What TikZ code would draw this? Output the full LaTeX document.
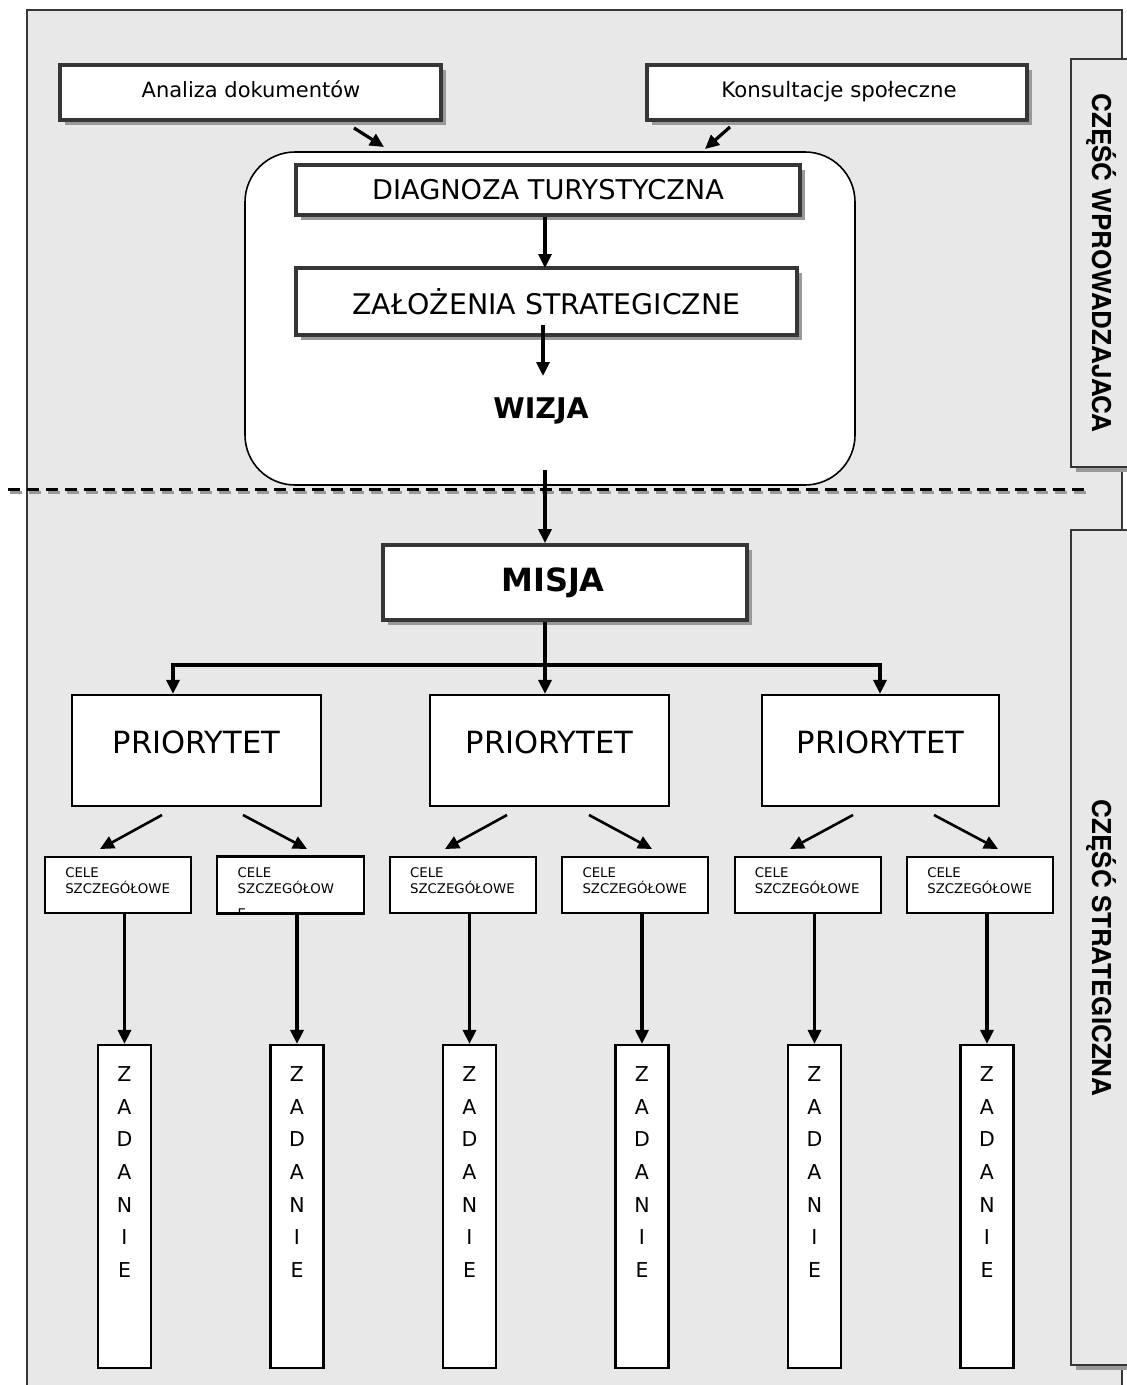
\documentclass[tikz,border=0pt]{standalone}
\usepackage{fontspec}
\setmainfont{DejaVu Sans}
\newfontfamily\arialf{TeX Gyre Heros}
\usetikzlibrary{arrows.meta,shadows,calc}
\definecolor{bg}{HTML}{E8E8E8}
\definecolor{frm}{HTML}{363636}
\definecolor{shd}{HTML}{999999}
\tikzset{
  shbox/.style={draw=frm, line width=3.8pt, fill=white, rectangle, inner sep=0pt,
    drop shadow={shadow xshift=5pt, shadow yshift=-5pt, fill=shd, opacity=1}},
  thinbox/.style={draw=black, line width=2.2pt, fill=white, rectangle, inner sep=0pt},
  sidebox/.style={draw=frm, line width=2.2pt, fill=bg, rectangle, inner sep=0pt,
    drop shadow={shadow xshift=5pt, shadow yshift=-5pt, fill=shd, opacity=1}},
  arr/.style={line width=3.2pt, -{Triangle[length=14pt,width=13pt]}},
  darr/.style={line width=2.6pt, -{Triangle[length=14pt,width=13pt]}},
  plain/.style={line width=3.2pt},
  txt/.style={inner sep=0pt},
  sidetxt/.style={inner sep=0pt, rotate=-90, font=\arialf\bfseries\fontsize{26}{30}\selectfont}
}
\begin{document}
\begin{tikzpicture}[x=1pt,y=-1pt]
\useasboundingbox (0,0) rectangle (1127,1385);
\clip (0,0) rectangle (1127,1385);
% background frame
\fill[bg] (27,10) rectangle (1122,1395);
\draw[frm, line width=2pt] (27,1395) -- (27,10) -- (1122,10) -- (1122,1395);
% side boxes
\node[sidebox, minimum width=75, minimum height=408] (s1) at (1108.5,263) {};
\node[sidebox, minimum width=75, minimum height=835] (s2) at (1108.5,947.5) {};
\node[sidetxt] (s1t) at (1101,263) {CZĘŚĆ WPROWADZAJACA};
\node[sidetxt] (s2t) at (1101,948) {CZĘŚĆ STRATEGICZNA};
% dashed separator
\draw[shd, line width=2.4pt, dash pattern=on 12pt off 7pt] (10,492.5) -- (1087,492.5);
\draw[black, line width=2.6pt, dash pattern=on 12pt off 7pt] (8,489.5) -- (1085,489.5);
% top input boxes
\node[shbox, minimum width=381, minimum height=55] (ana) at (250.5,92.5) {};
\node[txt, anchor=base, font=\fontsize{21}{24}\selectfont] (anat) at (251,97) {Analiza dokumentów};
\node[shbox, minimum width=380, minimum height=55] (kon) at (837,92.5) {};
\node[txt, anchor=base, font=\fontsize{21.3}{24}\selectfont] (kont) at (839,97) {Konsultacje społeczne};
% big rounded box
\node[draw=black, line width=1.6pt, fill=white, rounded corners=50pt, minimum width=610, minimum height=333, inner sep=0pt] (big) at (550,318.5) {};
\coordinate (a1s) at (354,128);
\coordinate (a1e) at (384,147);
\coordinate (a2s) at (730,127);
\coordinate (a2e) at (705,149);
\draw[arr] (a1s) -- (a1e);
\draw[arr] (a2s) -- (a2e);
% inner boxes
\node[shbox, minimum width=504, minimum height=50, font=\fontsize{27.2}{30}\selectfont] (diag) at (548,190) {DIAGNOZA TURYSTYCZNA};
\node[shbox, minimum width=501, minimum height=67, font=\fontsize{28.4}{32}\selectfont] (zal) at (546.5,301.5) {ZAŁOŻENIA STRATEGICZNE};
\node[txt, font=\bfseries\fontsize{28.5}{30}\selectfont] (wiz) at (541,411) {WIZJA};
\draw[arr] (diag.south -| 545,0) -- (545,268);
\coordinate (w1s) at (543,325);
\coordinate (w1e) at (543,376);
\draw[arr] (w1s) -- (w1e);
% misja
\node[shbox, minimum width=364, minimum height=75, font=\bfseries\fontsize{32}{34}\selectfont] (misja) at (565,582.5) {\hspace*{-24pt}MISJA};
\coordinate (m0) at (545,470);
\draw[arr] (m0) -- (m0 |- misja.north);
% priorities
\node[thinbox, minimum width=249, minimum height=111] (p1) at (196.5,750.5) {};
\node[thinbox, minimum width=239, minimum height=111] (p2) at (549.5,750.5) {};
\node[thinbox, minimum width=237, minimum height=111] (p3) at (880.5,750.5) {};
\foreach \i in {1,2,3}{
  \node[txt, font=\fontsize{30.6}{34}\selectfont] (p\i t) at ($(p\i.center)+(0,-8)$) {PRIORYTET};
}
\coordinate (hm) at (545,665);
\coordinate (hl) at (173,665);
\coordinate (hr) at (880,665);
\draw[plain] (misja.south -| hm) -- (hm);
\draw[plain] (hl) -- (hr);
\draw[arr] ($(hl)+(0,-1.6)$) -- (hl |- p1.north);
\draw[arr] (hm) -- (hm |- p2.north);
\draw[arr] ($(hr)+(0,-1.6)$) -- (hr |- p3.north);
% cele boxes
\foreach \i in {1,...,6}{
  \node[thinbox, line width=1.8pt, minimum width=146, minimum height=56] (c\i) at ({118+172.4*(\i-1)},885) {};
  \node[thinbox, minimum width=53, minimum height=323] (z\i) at ({124.5+172.5*(\i-1)},1206.5) {};
  \node[txt, align=center, font=\fontsize{20.5}{32.6}\selectfont] (z\i t) at ({124.5+172.5*(\i-1)},1172) {Z\\A\\D\\A\\N\\I\\E};
  \draw[arr] (c\i.south -| z\i.north) -- (z\i.north);
}
\foreach \i in {1,3,4,5,6}{
  \node[txt, anchor=north west, align=left, font=\fontsize{13.3}{16.5}\selectfont] (c\i t) at ($(c\i.north west)+(21,11)$) {CELE\\SZCZEGÓŁOWE};
}
\begin{scope}
  \clip (c2.north west) rectangle (c2.south east);
  \node[txt, anchor=north west, align=left, font=\fontsize{13.3}{16.5}\selectfont] (c2t) at ($(c2.north west)+(21,11)$) {CELE\\SZCZEGÓŁOW\\[8pt]E};
\end{scope}
\draw[black, line width=1.8pt] (c2.north west) rectangle (c2.south east);
% diagonal arrows
\coordinate (d1s) at (162,815); \coordinate (d1e) at (100,849);
\coordinate (d2s) at (243,815); \coordinate (d2e) at (307,849);
\coordinate (d3s) at (507,815); \coordinate (d3e) at (445,849);
\coordinate (d4s) at (589,815); \coordinate (d4e) at (652,849);
\coordinate (d5s) at (853,815); \coordinate (d5e) at (790,849);
\coordinate (d6s) at (934,815); \coordinate (d6e) at (998,849);
\foreach \i in {1,...,6}{ \draw[darr] (d\i s) -- (d\i e); }
\end{tikzpicture}
\end{document}
